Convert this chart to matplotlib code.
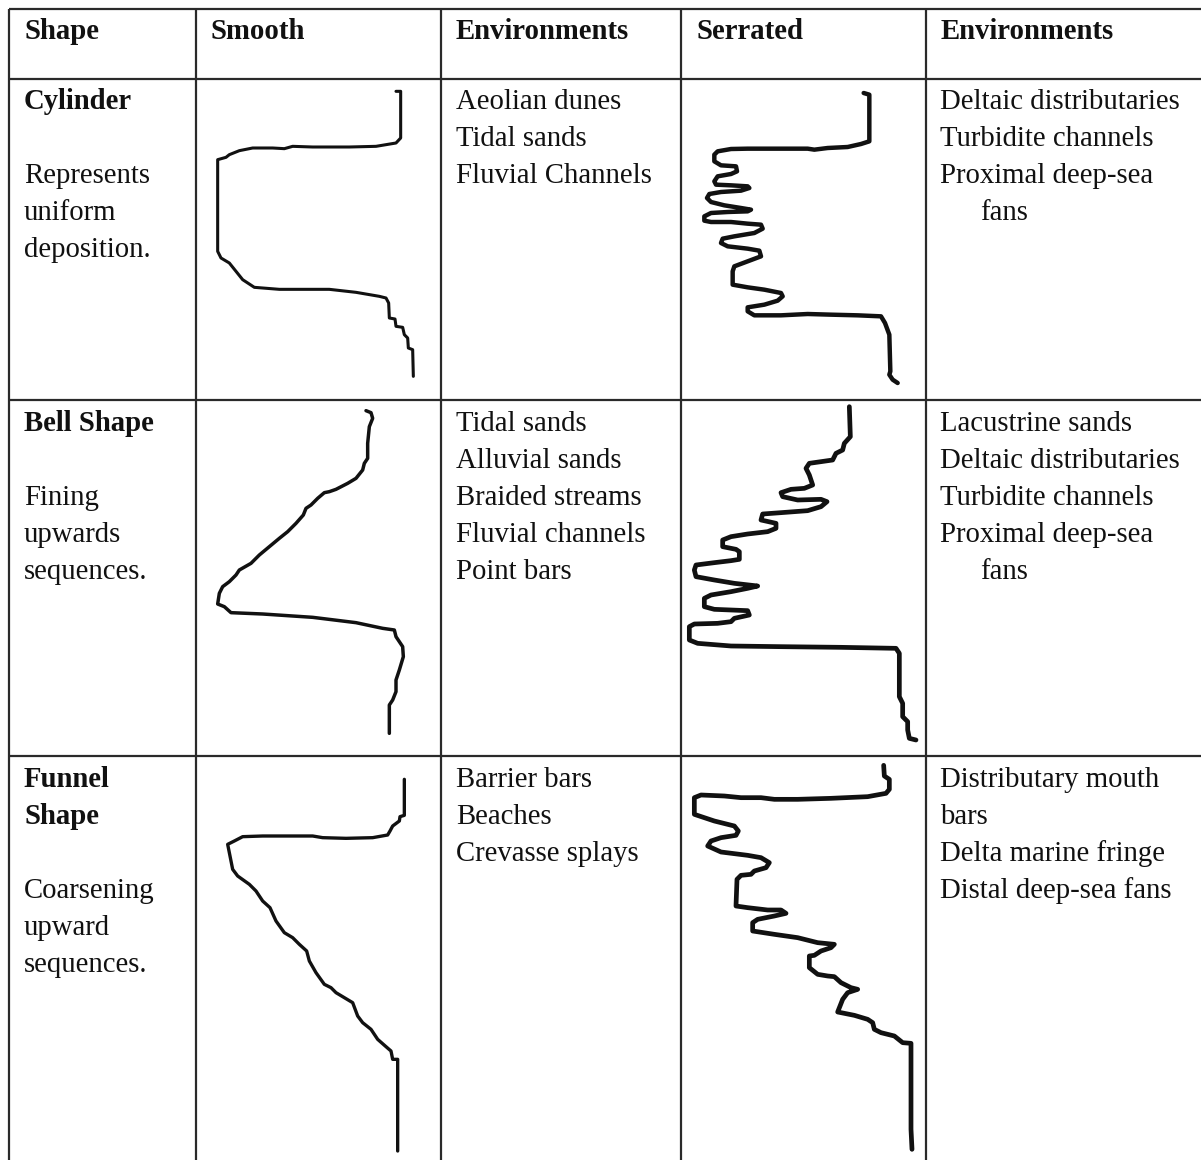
import matplotlib
matplotlib.use("Agg")
import matplotlib.pyplot as plt

W, H = 1201, 1160

# table grid (pixel positions)
col_edges = [9, 196, 441, 681, 926]
row_edges = [9, 79, 400, 756]

headers = ["Shape", "Smooth", "Environments", "Serrated", "Environments"]
header_x = [24, 211, 456, 696, 941]

shape_text = [
    [("Cylinder", True), ("", False), ("Represents", False), ("uniform", False), ("deposition.", False)],
    [("Bell Shape", True), ("", False), ("Fining", False), ("upwards", False), ("sequences.", False)],
    [("Funnel", True), ("Shape", True), ("", False), ("Coarsening", False), ("upward", False), ("sequences.", False)],
]
smooth_env = [
    ["Aeolian dunes", "Tidal sands", "Fluvial Channels"],
    ["Tidal sands", "Alluvial sands", "Braided streams", "Fluvial channels", "Point bars"],
    ["Barrier bars", "Beaches", "Crevasse splays"],
]
serrated_env = [
    ["Deltaic distributaries", "Turbidite channels", "Proximal deep-sea", "   fans"],
    ["Lacustrine sands", "Deltaic distributaries", "Turbidite channels", "Proximal deep-sea", "   fans"],
    ["Distributary mouth", "bars", "Delta marine fringe", "Distal deep-sea fans"],
]
row_text_top = [100, 422, 778]

# log curves: x = log reading, y = depth (units of 1/3 pixel within each cell)
cyl_smooth_x = [600, 614, 614, 600, 540, 460, 350, 290, 265, 230, 170, 130, 100, 90, 65, 65, 75, 100, 120, 140, 175, 250, 400, 480, 550, 570, 578, 580, 597, 600, 620, 625, 635, 637, 650, 652]
cyl_smooth_y = [40, 40, 180, 195, 205, 207, 207, 205, 212, 210, 210, 218, 230, 238, 245, 520, 540, 555, 580, 605, 628, 634, 634, 643, 655, 660, 675, 720, 723, 745, 748, 770, 780, 810, 815, 895]

cyl_serr_x = [548, 565, 565, 540, 500, 440, 400, 380, 300, 200, 150, 110, 100, 100, 120, 165, 168, 150, 110, 100, 105, 150, 200, 205, 180, 120, 85, 78, 90, 130, 180, 210, 200, 140, 90, 70, 70, 90, 150, 200, 240, 245, 220, 160, 125, 120, 140, 200, 235, 240, 200, 160, 155, 155, 200, 250, 300, 305, 290, 250, 200, 200, 220, 300, 380, 450, 530, 600, 612, 625, 628, 625, 635, 650]
cyl_serr_y = [45, 50, 190, 198, 207, 210, 215, 212, 212, 212, 213, 220, 230, 250, 262, 265, 280, 288, 295, 310, 320, 322, 325, 330, 338, 342, 348, 360, 372, 382, 390, 395, 400, 402, 405, 415, 428, 432, 432, 437, 440, 452, 465, 475, 482, 495, 505, 512, 518, 535, 550, 565, 580, 620, 628, 635, 645, 655, 668, 680, 688, 700, 712, 712, 708, 710, 712, 715, 735, 770, 880, 890, 905, 915]

bell_smooth_x = [510, 525, 530, 520, 515, 515, 505, 500, 480, 455, 420, 400, 385, 365, 345, 330, 322, 300, 275, 250, 220, 190, 165, 130, 120, 100, 80, 70, 65, 85, 105, 200, 350, 480, 560, 595, 600, 620, 622, 610, 600, 600, 590, 580, 580]
bell_smooth_y = [32, 38, 55, 80, 130, 175, 190, 210, 235, 250, 268, 275, 278, 295, 315, 325, 345, 370, 395, 415, 440, 465, 490, 510, 525, 545, 560, 580, 612, 620, 638, 642, 652, 668, 685, 690, 710, 740, 770, 810, 840, 875, 900, 915, 1000]

bell_serr_x = [505, 508, 490, 485, 465, 455, 420, 385, 375, 385, 395, 370, 330, 300, 305, 350, 420, 438, 420, 380, 300, 245, 240, 285, 285, 260, 200, 150, 125, 125, 165, 175, 175, 150, 100, 45, 40, 45, 100, 160, 230, 200, 150, 90, 70, 70, 100, 150, 200, 205, 160, 150, 110, 40, 25, 25, 50, 150, 300, 480, 645, 655, 655, 665, 665, 680, 680, 685, 705]
bell_serr_y = [20, 110, 130, 150, 160, 180, 185, 190, 205, 225, 255, 265, 268, 278, 290, 300, 298, 305, 320, 332, 338, 342, 360, 370, 385, 395, 402, 410, 420, 440, 448, 455, 478, 482, 488, 495, 510, 530, 540, 550, 558, 565, 575, 585, 595, 620, 628, 630, 632, 645, 655, 665, 670, 672, 680, 720, 730, 738, 740, 742, 745, 760, 890, 910, 950, 965, 990, 1015, 1020]

fun_smooth_x = [625, 625, 612, 610, 590, 582, 575, 530, 450, 380, 350, 200, 140, 115, 95, 100, 110, 125, 160, 180, 200, 222, 240, 265, 290, 310, 332, 340, 360, 385, 405, 420, 445, 470, 485, 500, 525, 545, 570, 585, 590, 605, 605]
fun_smooth_y = [70, 178, 182, 195, 210, 225, 237, 245, 247, 245, 240, 240, 242, 255, 265, 290, 340, 360, 385, 405, 435, 455, 495, 530, 545, 565, 585, 615, 650, 685, 695, 710, 725, 740, 780, 800, 820, 850, 872, 885, 910, 910, 1185]

fun_serr_x = [608, 610, 625, 625, 615, 560, 450, 350, 280, 240, 180, 130, 60, 40, 40, 100, 160, 172, 165, 120, 90, 80, 120, 200, 240, 265, 255, 220, 210, 180, 168, 165, 200, 260, 300, 315, 280, 230, 215, 215, 280, 350, 410, 460, 450, 420, 400, 385, 385, 410, 440, 460, 480, 510, 530, 500, 485, 470, 520, 560, 575, 580, 600, 640, 665, 690, 690, 693]
fun_serr_y = [28, 60, 70, 100, 112, 122, 127, 130, 130, 125, 125, 120, 117, 125, 175, 195, 210, 225, 238, 245, 255, 270, 288, 298, 305, 320, 335, 345, 355, 358, 370, 450, 455, 462, 462, 472, 480, 490, 500, 525, 535, 545, 560, 565, 575, 585, 598, 600, 635, 655, 660, 662, 680, 695, 700, 710, 730, 768, 778, 790, 800, 820, 830, 840, 860, 862, 1120, 1180]

curves = [
    ((196, 78, 245, 322), cyl_smooth_x, cyl_smooth_y, 2.2),
    ((681, 78, 245, 322), cyl_serr_x, cyl_serr_y, 3.2),
    ((196, 400, 245, 356), bell_smooth_x, bell_smooth_y, 2.5),
    ((681, 400, 245, 356), bell_serr_x, bell_serr_y, 3.4),
    ((196, 756, 245, 404), fun_smooth_x, fun_smooth_y, 2.4),
    ((681, 756, 245, 404), fun_serr_x, fun_serr_y, 3.4),
]

FONT = "Liberation Serif"
FS = 20.7
LINE = 37
GRID_C = "#2a2a2a"
INK = "#111111"

fig = plt.figure(figsize=(W / 100, H / 100), dpi=100)
ax = fig.add_axes([0, 0, 1, 1])
ax.set_xlim(0, W)
ax.set_ylim(H, 0)
ax.axis("off")

# grid
for x in col_edges:
    ax.plot([x, x], [row_edges[0], H], color=GRID_C, lw=1.6, solid_capstyle="butt")
for y in row_edges:
    ax.plot([col_edges[0], W], [y, y], color=GRID_C, lw=1.6, solid_capstyle="butt")

def put(x, y_center, s, bold=False):
    ax.text(x, y_center + 9, s, fontfamily=FONT, fontsize=FS, color=INK,
            fontweight="bold" if bold else "normal", ha="left", va="baseline")

for hx, h in zip(header_x, headers):
    put(hx, 30, h, bold=True)

for r in range(3):
    y0 = row_text_top[r]
    for i, (s, b) in enumerate(shape_text[r]):
        if s:
            put(24, y0 + i * LINE, s, bold=b)
    for i, s in enumerate(smooth_env[r]):
        put(456, y0 + i * LINE, s)
    for i, s in enumerate(serrated_env[r]):
        if s.startswith("   "):
            put(980, y0 + i * LINE, s.strip())
        else:
            put(940, y0 + i * LINE, s)

for (cx, cy, cw, ch), xs, ys, lw in curves:
    a = fig.add_axes([cx / W, 1 - (cy + ch) / H, cw / W, ch / H])
    a.set_xlim(0, 3 * cw)
    a.set_ylim(3 * ch, 0)
    a.axis("off")
    a.patch.set_alpha(0)
    a.plot(xs, ys, color=INK, lw=lw, solid_joinstyle="round", solid_capstyle="round")

fig.savefig("out.png", dpi=100)
